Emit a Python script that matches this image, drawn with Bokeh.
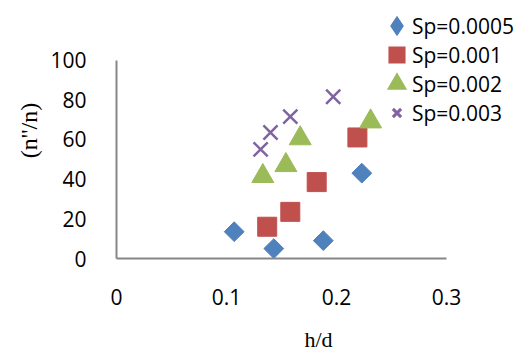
import math
from bokeh.plotting import figure
from bokeh.models import Legend, LegendItem, FixedTicker, NumeralTickFormatter, Range1d
from bokeh.embed import file_html
from bokeh.resources import INLINE

# ---- data ----
x_ticks = [0, 0.1, 0.2, 0.3]
y_ticks = [0, 20, 40, 60, 80, 100]
series_labels = ["Sp=0.0005", "Sp=0.001", "Sp=0.002", "Sp=0.003"]

hd_0005 = [0.107, 0.143, 0.188, 0.223]
nn_0005 = [13.5, 5.0, 9.0, 43.0]

hd_001 = [0.137, 0.158, 0.182, 0.219]
nn_001 = [16.0, 23.5, 38.5, 61.0]

hd_002 = [0.133, 0.154, 0.167, 0.231]
nn_002 = [41.5, 47.0, 60.5, 69.0]

hd_003 = [0.131, 0.140, 0.158, 0.197]
nn_003 = [55.0, 63.5, 71.5, 81.5]

# ---- styles ----
BLUE = "#4F81BD"
RED = "#C0504D"
GREEN = "#9BBB59"
PURPLE = "#8064A2"
AXIS = "#868686"
FONT = "Open Sans"

# frame spans the legend area too; axis lines are bounded to the data ranges
p = figure(width=520, height=354, output_backend="svg", toolbar_location=None,
           x_range=Range1d(0, 0.3 * 404 / 330), y_range=Range1d(0, 129),
           min_border_left=116, min_border_right=0, min_border_top=2, min_border_bottom=94)
p.outline_line_color = None
p.grid.visible = False

r1 = p.scatter(hd_0005, nn_0005, marker="square", angle=math.pi / 4, size=14,
               fill_color=BLUE, line_color=BLUE)
r2 = p.scatter(hd_001, nn_001, marker="square", size=19, fill_color=RED, line_color=RED)
r3 = p.scatter(hd_002, nn_002, marker="triangle", size=22, fill_color=GREEN, line_color=GREEN)
r4 = p.scatter(hd_003, nn_003, marker="x", size=20, line_color=PURPLE, line_width=2.5)

# legend keys (kept outside the visible ranges; only drawn in the legend)
k1 = p.scatter([-1], [-1], marker="diamond", size=10, fill_color=BLUE, line_color=BLUE,
               line_width=5, line_join="miter")
k2 = p.scatter([-1], [-1], marker="square", size=10, fill_color=RED, line_color=RED,
               line_width=5.5, line_join="miter")
k3 = p.scatter([-1], [-1], marker="triangle", size=10, fill_color=GREEN, line_color=GREEN,
               line_width=5, line_join="miter")
k4 = p.scatter([-1], [-1], marker="x", size=10, line_color=PURPLE, line_width=3)

for ax in (p.xaxis[0], p.yaxis[0]):
    ax.axis_line_color = AXIS
    ax.axis_line_width = 2
    ax.major_tick_in = 0
    ax.major_tick_out = 0
    ax.minor_tick_in = 0
    ax.minor_tick_out = 0
    ax.major_label_text_font = FONT
    ax.major_label_text_font_size = "21px"
    ax.major_label_text_color = "#000000"
    ax.axis_label_text_font = "Liberation Serif"
    ax.axis_label_text_font_style = "normal"
    ax.axis_label_text_color = "#000000"

p.xaxis.bounds = (x_ticks[0], x_ticks[-1])
p.yaxis.bounds = (y_ticks[0], y_ticks[-1])
p.xaxis.ticker = FixedTicker(ticks=x_ticks)
p.yaxis.ticker = FixedTicker(ticks=y_ticks)
p.xaxis.formatter = NumeralTickFormatter(format="0.[0]")
p.yaxis.formatter = NumeralTickFormatter(format="0")
p.xaxis.axis_label = "h/d"
p.yaxis.axis_label = "(n''/n)"
p.xaxis.axis_label_text_font_size = "22px"
p.yaxis.axis_label_text_font_size = "24px"
p.xaxis.major_label_standoff = 30
p.xaxis.axis_label_standoff = 19
p.yaxis.major_label_standoff = 30
p.yaxis.axis_label_standoff = 5

legend = Legend(
    items=[LegendItem(label=series_labels[0], renderers=[k1]),
           LegendItem(label=series_labels[1], renderers=[k2]),
           LegendItem(label=series_labels[2], renderers=[k3]),
           LegendItem(label=series_labels[3], renderers=[k4])],
    location=(266, 131), orientation="vertical",
    glyph_width=29, glyph_height=29, spacing=0, label_standoff=1,
    padding=0, margin=0, border_line_color=None, background_fill_alpha=0,
    label_text_font=FONT, label_text_font_size="21px", label_text_color="#000000",
)
p.add_layout(legend)

open("out.html", "w").write(file_html(p, INLINE))
